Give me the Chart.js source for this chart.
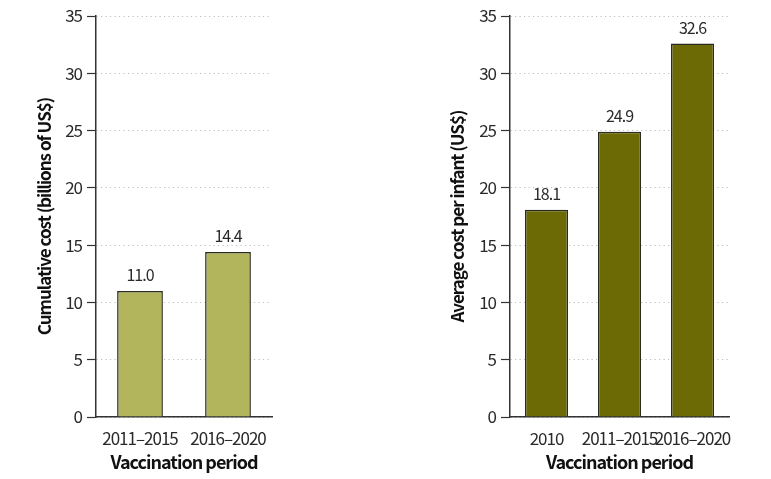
<!DOCTYPE html>
<html>
<head>
<meta charset="utf-8">
<script src="https://cdn.jsdelivr.net/npm/chart.js@4"></script>
<style>
  html, body { margin: 0; padding: 0; background: #fff; }
  body { width: 771px; height: 479px; position: relative; overflow: hidden; }
  #c1 { position: absolute; left: 0; top: 0; }
  #c2 { position: absolute; left: 400px; top: 0; }
</style>
</head>
<body>
<canvas id="c1" width="300" height="479"></canvas>
<canvas id="c2" width="371" height="479"></canvas>
<script>
const leftCategories = ['2011\u20132015', '2016\u20132020'];
const leftValues = [11.0, 14.4];
const rightCategories = ['2010', '2011\u20132015', '2016\u20132020'];
const rightValues = [18.1, 24.9, 32.6];
const yTicks = [0, 5, 10, 15, 20, 25, 30, 35];
const leftYTitle = 'Cumulative cost (billions of US$)';
const rightYTitle = 'Average cost per infant (US$)';
const xTitle = 'Vaccination period';

const FONT = "'Noto Sans CJK JP', 'Noto Sans', sans-serif";
const TEXT = '#2a2a2a';

const condense = {
  id: 'condense',
  beforeUpdate(chart) { chart.ctx.letterSpacing = '-1px'; },
  beforeDraw(chart) { chart.ctx.letterSpacing = '-1px'; }
};

const valueLabels = {
  id: 'valueLabels',
  afterDatasetsDraw(chart) {
    const ctx = chart.ctx;
    const meta = chart.getDatasetMeta(0);
    const data = chart.data.datasets[0].data;
    ctx.save();
    ctx.font = "16px " + FONT;
    ctx.fillStyle = TEXT;
    ctx.textAlign = 'center';
    ctx.textBaseline = 'middle';
    meta.data.forEach((bar, i) => {
      ctx.fillText(data[i].toFixed(1), bar.x, bar.y - 16);
    });
    ctx.restore();
  }
};

function makeChart(id, cats, vals, color, yTitle, yWidth, rightPad, titlePad, barPct) {
  return new Chart(document.getElementById(id), {
    type: 'bar',
    data: {
      labels: cats,
      datasets: [{
        data: vals,
        backgroundColor: color,
        borderColor: '#2b2b22',
        borderWidth: 1.5,
        borderSkipped: 'bottom',
        barPercentage: barPct,
        categoryPercentage: 1.0
      }]
    },
    options: {
      responsive: false,
      animation: false,
      devicePixelRatio: 1,
      layout: { padding: { left: 0, right: rightPad, top: 16, bottom: 0 } },
      plugins: { legend: { display: false }, tooltip: { enabled: false } },
      scales: {
        x: {
          grid: { display: false, drawTicks: false },
          border: { display: true, color: '#333', width: 1.5 },
          ticks: {
            font: { family: FONT, size: 17 },
            color: TEXT,
            padding: 11,
            autoSkip: false,
            maxRotation: 0,
            minRotation: 0
          },
          title: {
            display: true,
            text: xTitle,
            font: { family: FONT, size: 18, weight: 'bold' },
            color: '#111',
            padding: { top: 0, bottom: 6 }
          },
          afterFit(s) { s.height = 62; }
        },
        y: {
          min: 0,
          max: 35,
          afterBuildTicks(s) { s.ticks = yTicks.map(v => ({ value: v })); },
          grid: {
            color: '#bdbdbd',
            lineWidth: 1,
            drawTicks: true,
            tickLength: 9,
            tickColor: '#333',
            tickWidth: 1.2,
            tickBorderDash: []
          },
          border: { display: true, color: '#333', width: 1.5, dash: [1.2, 3.3] },
          ticks: {
            font: { family: FONT, size: 17 },
            color: TEXT,
            padding: 5
          },
          title: {
            display: true,
            text: yTitle,
            font: { family: FONT, size: 17, weight: 'bold' },
            color: '#111',
            padding: { top: titlePad, bottom: 0 }
          },
          afterFit(s) { s.width = yWidth; }
        }
      }
    },
    plugins: [condense, valueLabels]
  });
}

makeChart('c1', leftCategories, leftValues, '#b3b55c', leftYTitle, 96, 28, 34, 0.52);
makeChart('c2', rightCategories, rightValues, '#6b6a05', rightYTitle, 110, 42, 47, 0.59);
</script>
</body>
</html>
